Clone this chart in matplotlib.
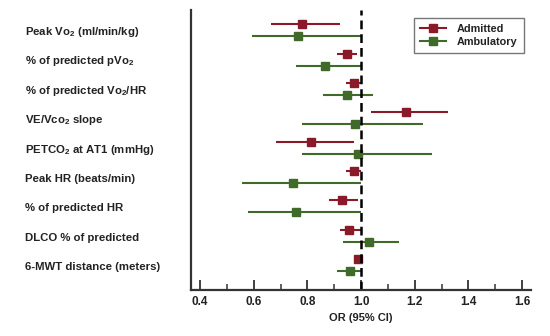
import numpy as np
import matplotlib
matplotlib.use("Agg")
import matplotlib.pyplot as plt
from matplotlib.ticker import MultipleLocator

plt.rcParams['font.family'] = ['Liberation Sans', 'DejaVu Sans']
plt.rcParams['font.weight'] = 'bold'
plt.rcParams['mathtext.fontset'] = 'custom'
plt.rcParams['mathtext.rm'] = 'Liberation Sans:bold'
plt.rcParams['mathtext.bf'] = 'Liberation Sans:bold'

labels = [r"Peak Vo$_2$ (ml/min/kg)",
          r"% of predicted pVo$_2$",
          r"% of predicted Vo$_2$/HR",
          r"VE/Vco$_2$ slope",
          r"PETCO$_2$ at AT1 (mmHg)",
          "Peak HR (beats/min)",
          "% of predicted HR",
          "DLCO % of predicted",
          "6-MWT distance (meters)"]

adm_or = [0.779, 0.947, 0.973, 1.168, 0.814, 0.972, 0.930, 0.955, 0.990]
adm_lo = [0.665, 0.912, 0.945, 1.036, 0.684, 0.943, 0.881, 0.921, 0.980]
adm_hi = [0.921, 0.984, 1.000, 1.322, 0.973, 1.000, 0.990, 1.000, 1.000]

amb_or = [0.766, 0.867, 0.949, 0.977, 0.990, 0.747, 0.758, 1.031, 0.958]
amb_lo = [0.594, 0.757, 0.860, 0.779, 0.779, 0.557, 0.578, 0.932, 0.912]
amb_hi = [1.000, 1.000, 1.045, 1.229, 1.266, 1.000, 1.000, 1.143, 1.000]

red = "#8a1a2a"
green = "#3f6a2a"
txt = "#222222"

fig = plt.figure(figsize=(5.5, 3.36), dpi=100)
ax = fig.add_axes([0.347, 0.137, 0.618, 0.833])

rows = np.arange(len(labels))
ax.hlines(rows, adm_lo, adm_hi, color=red, lw=1.5)
ax.plot(adm_or, rows, ls="", marker="s", ms=5.5, color=red)
ax.hlines(rows + 0.41, amb_lo, amb_hi, color=green, lw=1.5)
ax.plot(amb_or, rows + 0.41, ls="", marker="s", ms=5.5, color=green)

# legend proxies
ax.plot([], [], color=red, marker="s", ms=5.5, lw=1.5, label="Admitted")
ax.plot([], [], color=green, marker="s", ms=5.5, lw=1.5, label="Ambulatory")

ax.axvline(1.0, color="black", lw=1.8, dashes=(3.5, 2))

ax.set_xlim(0.366, 1.632)
ax.set_ylim(9.05, -0.48)

for s in ["top", "right"]:
    ax.spines[s].set_visible(False)
for s in ["left", "bottom"]:
    ax.spines[s].set_linewidth(1.6)
    ax.spines[s].set_color("#333333")

ax.set_yticks([])
ax.xaxis.set_major_locator(MultipleLocator(0.2))
ax.xaxis.set_minor_locator(MultipleLocator(0.1))
ax.tick_params(axis="x", which="major", direction="in", length=7, width=1.3,
               labelsize=8.5, pad=4, labelcolor=txt, color="#333333")
ax.tick_params(axis="x", which="minor", direction="in", length=4, width=1.1, color="#333333")
ax.set_xticklabels([f"{v:.1f}" for v in ax.get_xticks()], fontweight="bold")
ax.set_xlabel("OR (95% CI)", fontsize=8, fontweight="bold", labelpad=4, color=txt)

trans = ax.get_yaxis_transform()
for i, lab in enumerate(labels):
    ax.text(-0.488, i + 0.27, lab, transform=trans, fontsize=8.2,
            fontweight="bold", va="center", ha="left", color=txt)

leg = ax.legend(loc="upper right", bbox_to_anchor=(0.979, 0.971), borderaxespad=0,
                fontsize=7.8, frameon=True, fancybox=False, handlelength=2.4,
                borderpad=0.55, labelspacing=0.25, handletextpad=1.0)
leg.get_frame().set_edgecolor("#555555")
leg.get_frame().set_linewidth(1.0)
for t in leg.get_texts():
    t.set_color(txt)

fig.savefig("out.png", dpi=100)
